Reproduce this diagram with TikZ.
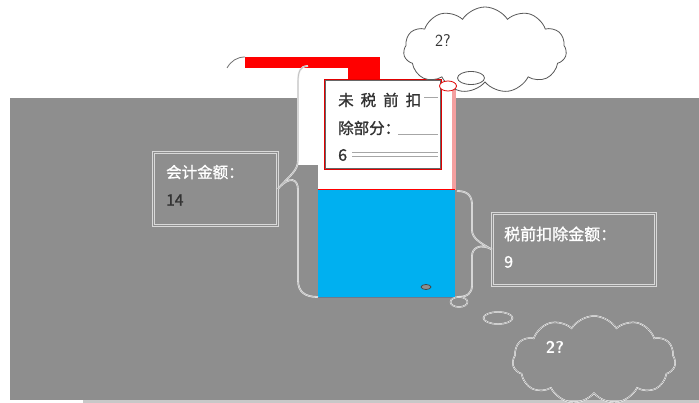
\documentclass[tikz,border=0pt]{standalone}
\usepackage{fontspec}
\newfontfamily\cjk[FakeBold=1.2]{Noto Sans CJK SC}
\usetikzlibrary{shapes.symbols,shapes.geometric}
\definecolor{bggray}{HTML}{8E8E8E}
\definecolor{lightstrip}{HTML}{C8C8C8}
\definecolor{skyblue}{HTML}{00B0F0}
\definecolor{boxred}{HTML}{E00000}
\definecolor{pinkish}{HTML}{F4A0A0}
\definecolor{darktxt}{HTML}{333333}
\definecolor{edgegray}{HTML}{6D7A8C}
\tikzset{
  pane/.style={draw=white!85!black, line width=0.9pt, double=bggray, double distance=0.6pt, inner sep=0pt},
  bracepath/.style={draw=white!90!black, line width=0.6pt, double=bggray!60!white, double distance=0.6pt},
  cloudshape/.style={cloud, cloud puffs=11, cloud puff arc=115, aspect=1.85, draw=black!65, line width=0.8pt, inner sep=0pt},
  bubble/.style={ellipse, draw=black!65, line width=0.8pt, inner sep=0pt},
  lbl/.style={font=\cjk\fontsize{15.5}{15.5}\selectfont, anchor=west, inner sep=0pt},
}
\begin{document}
\begin{tikzpicture}[x=1pt,y=-1pt]
\useasboundingbox (0,0) rectangle (699,403);
\fill[white] (0,0) rectangle (699,403);
% gray field
\fill[bggray] (10,98) rectangle (699,400);
\fill[lightstrip] (83,400) rectangle (699,403);
% white column above blue
\fill[white] (298,68) rectangle (456,165);
\fill[white] (318,165) rectangle (456,190);
\fill[pinkish] (452,68) rectangle (456,190);
% red bar
\fill[red] (245,57) rectangle (380,68);
\fill[red] (348,68) rectangle (380,79);
% blue block
\fill[skyblue] (318,190) rectangle (455,297);
\draw[edgegray, line width=1.5pt] (318,297.5) -- (455,297.5);
\draw[red, line width=1pt] (318,190) -- (455,190);
% text box in white column
\node[draw=boxred, line width=1.6pt, fill=white, minimum width=116pt, minimum height=89pt, anchor=north west, inner sep=0pt] (taxbox) at (324,79) {};
\draw[black!60, line width=0.6pt] ([xshift=1.5pt,yshift=-1.5pt]taxbox.north west) rectangle ([xshift=-1.5pt,yshift=1.5pt]taxbox.south east);
\node[lbl, text=darktxt] (t1) at (338,100) {未\hspace{7pt}税\hspace{7pt}前\hspace{7pt}扣};
\node[lbl, text=darktxt] (t2) at (338,128) {除部分：};
\node[lbl, text=darktxt, font=\cjk\fontsize{16}{16}\selectfont] (t3) at (338,155) {6};
\draw[black!35, line width=0.5pt] (398,134) -- (438,134) (352,152) -- (438,152) (352,156) -- (438,156) (424,97) -- (438,97);
% left box
\node[pane, minimum width=124pt, minimum height=73pt, anchor=north west] (leftbox) at (153,152) {};
\node[lbl, text=white] (l1) at (166,172) {会计金额：};
\node[lbl, text=darktxt] (l2) at (166,200) {14};
% right box
\node[pane, minimum width=163pt, minimum height=72pt, anchor=north west] (rightbox) at (492,213) {};
\node[lbl, text=white, font=\cjk\fontsize{16}{16}\selectfont] (r1) at (504,234) {税前扣除金额：};
\node[lbl, text=white, font=\cjk\fontsize{16}{16}\selectfont] (r2) at (504,262) {9};
% braces
\coordinate (lbTop) at (308,66);
\coordinate (lbBot) at (318,297);
\path[bracepath] (lbTop) .. controls (300,66) and (298,72) .. (298,82)
  -- (298,160) .. controls (298,171) and (290,175) .. (leftbox.east)
  .. controls (290,175) and (298,179) .. (298,190)
  -- (298,280) .. controls (298,292) and (305,297) .. (lbBot);
\coordinate (rbTop) at (457,191);
\coordinate (rbBot) at (457,297);
\path[bracepath] (rbTop) .. controls (468,191) and (472,196) .. (472,205)
  -- (472,230) .. controls (472,238) and (480,243) .. (rightbox.west)
  .. controls (480,243) and (472,248) .. (472,256)
  -- (472,285) .. controls (472,293) and (468,297) .. (rbBot);
\coordinate (arcA) at (227,68);
\coordinate (arcB) at (245,57);
\draw[black!55, line width=0.8pt] (arcA) .. controls (231,61) and (237,57) .. (arcB);
% clouds
\node[cloudshape, fill=white, minimum width=163pt, minimum height=86pt] (topcloud) at (485,50) {};
\node[font=\fontsize{17}{17}\selectfont\sffamily, text=darktxt] (q1) at (443,41) {2?};
\node[bubble, fill=white, minimum width=27pt, minimum height=13pt] (tb1) at (471,78) {};
\node[bubble, draw=boxred, fill=white, minimum width=17pt, minimum height=10pt] (tb2) at (448,86) {};
\node[cloudshape, draw=white, double=black!50, double distance=0.4pt, line width=0.5pt, minimum width=163pt, minimum height=88pt] (botcloud) at (594,360) {};
\node[font=\fontsize{17}{17}\selectfont\sffamily\bfseries, text=white] (q2) at (555,347) {2?};
\node[bubble, draw=white, double=black!50, double distance=0.4pt, line width=0.5pt, minimum width=29pt, minimum height=12pt] (bb1) at (498,318) {};
\node[bubble, draw=white, double=black!50, double distance=0.4pt, line width=0.5pt, minimum width=17pt, minimum height=10pt] (bb2) at (459,302) {};
\node[bubble, fill=bggray, minimum width=10pt, minimum height=5pt, line width=0.7pt, draw=black!75] (dot) at (426,287) {};
\end{tikzpicture}
\end{document}
